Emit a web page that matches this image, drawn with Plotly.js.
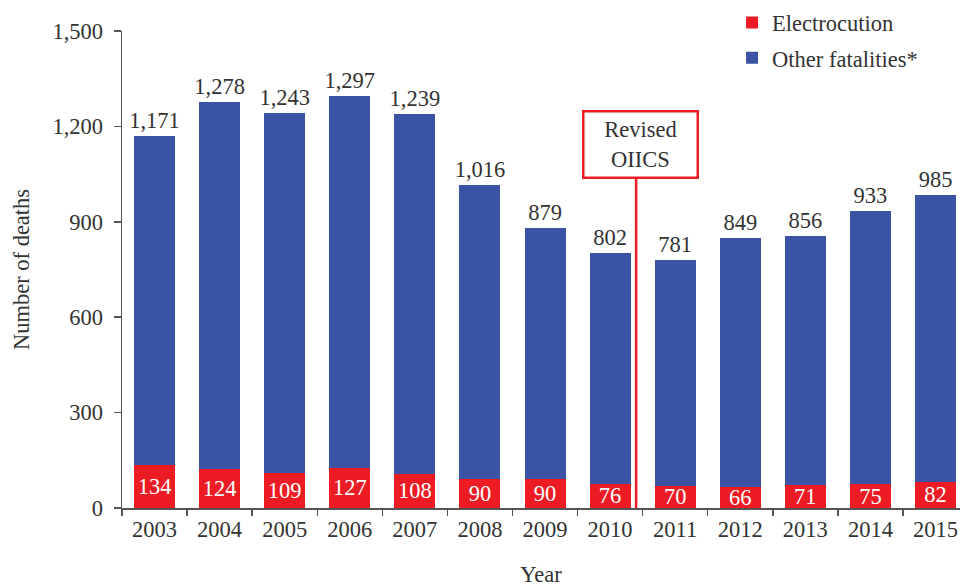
<!DOCTYPE html>
<html>
<head>
<meta charset="utf-8">
<script src="https://cdn.plot.ly/plotly-3.0.1.min.js"></script>
<style>html,body{margin:0;padding:0;background:#fff;}#chart{width:960px;height:587px;}</style>
</head>
<body>
<div id="chart"></div>
<script>
const years = ['2003','2004','2005','2006','2007','2008','2009','2010','2011','2012','2013','2014','2015'];
const electrocution = [134,124,109,127,108,90,90,76,70,66,71,75,82];
const totals = [1171,1278,1243,1297,1239,1016,879,802,781,849,856,933,985];
const otherFatalities = totals.map((t, i) => t - electrocution[i]);
const yTicks = [0,300,600,900,1200,1500];

const RED = '#ED1C24';
const BLUE = '#3A53A4';
const FONT = 'Liberation Serif, Times New Roman, serif';
const TXT = '#333333';
const FS = 22.5;

const traces = [
  {
    type: 'bar', name: 'Electrocution', x: years, y: electrocution,
    marker: {color: RED}, legendgroup: 'a',
    text: electrocution.map(String), textposition: 'inside', insidetextanchor: 'middle',
    constraintext: 'none', textangle: 0,
    textfont: {family: FONT, size: FS, color: '#ffffff'},
    hoverinfo: 'skip'
  },
  {
    type: 'bar', name: 'Other fatalities*', x: years, y: otherFatalities,
    marker: {color: BLUE}, legendgroup: 'b',
    customdata: totals,
    texttemplate: '%{customdata:,}', textposition: 'outside', constraintext: 'none', textangle: 0,
    textfont: {family: FONT, size: FS, color: TXT},
    cliponaxis: false, hoverinfo: 'skip'
  }
];

const layout = {
  width: 960, height: 587,
  margin: {l: 122, r: 0, t: 31, b: 79},
  paper_bgcolor: '#fff', plot_bgcolor: '#fff',
  barmode: 'stack', bargap: 0.37,
  font: {family: FONT, size: FS, color: TXT},
  showlegend: true,
  legend: {
    x: 0.728, y: 1.062, xanchor: 'left', yanchor: 'top',
    traceorder: 'grouped', tracegroupgap: 3,
    font: {family: FONT, size: FS, color: TXT},
    bgcolor: 'rgba(0,0,0,0)', itemwidth: 30
  },
  xaxis: {
    type: 'category', range: [-0.5, 12.376],
    showline: true, linecolor: '#555', linewidth: 1.5,
    ticks: 'outside', tickson: 'boundaries', ticklen: 6, tickcolor: '#555', tickwidth: 1.5,
    tickfont: {family: FONT, size: FS, color: TXT},
    showgrid: false, zeroline: false,
    title: {text: 'Year', font: {family: FONT, size: FS, color: TXT}, standoff: 26}
  },
  yaxis: {
    range: [0, 1500], tickvals: yTicks, tickformat: ',',
    showline: true, linecolor: '#555', linewidth: 1.5,
    ticks: 'outside', ticklen: 7, tickcolor: '#555', tickwidth: 1.5, ticklabelstandoff: 6,
    tickfont: {family: FONT, size: FS, color: TXT},
    showgrid: false, zeroline: false,
    title: {text: 'Number of deaths', font: {family: FONT, size: FS, color: TXT}, standoff: 16}
  },
  shapes: [
    {type: 'line', xref: 'x', yref: 'y', x0: 7.4, x1: 7.4, y0: 0, y1: 1035,
     line: {color: RED, width: 2.5}}
  ],
  annotations: [
    {xref: 'x', yref: 'y', x: 7.46, y: 1143, text: 'Revised<br>OIICS', showarrow: false,
     font: {family: FONT, size: FS, color: TXT},
     bordercolor: RED, borderwidth: 2.5, bgcolor: '#fff', width: 110, height: 62, borderpad: 1,
     xanchor: 'center', yanchor: 'middle'}
  ]
};

Plotly.newPlot('chart', traces, layout, {displayModeBar: false, staticPlot: true});
</script>
</body>
</html>
